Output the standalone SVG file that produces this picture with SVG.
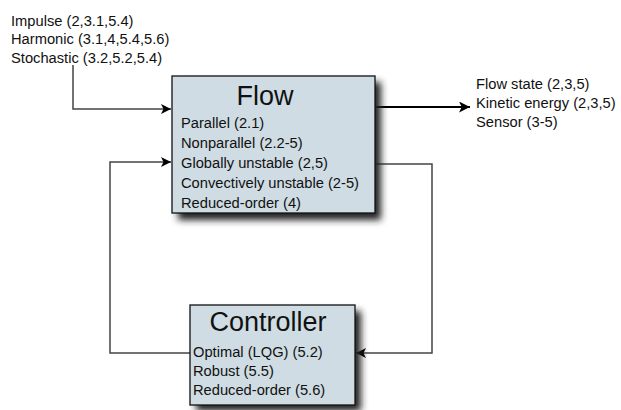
<svg xmlns="http://www.w3.org/2000/svg" width="621" height="410" viewBox="0 0 621 410">
<defs>
<filter id="sh" x="-20%" y="-20%" width="150%" height="160%">
<feGaussianBlur stdDeviation="3.5"/>
</filter>
<marker id="ah" viewBox="0 0 10 10" refX="10" refY="5" markerWidth="10" markerHeight="10" markerUnits="userSpaceOnUse" orient="auto">
<path d="M0,0 L10,5 L0,10 L2.5,5 Z" fill="#000"/>
</marker>
<marker id="ah2" viewBox="0 0 10 10" refX="10" refY="5" markerWidth="11" markerHeight="11" markerUnits="userSpaceOnUse" orient="auto">
<path d="M0,0 L10,5 L0,10 L2.5,5 Z" fill="#000"/>
</marker>
</defs>
<style>
text{font-family:"Liberation Sans","Open Sans",sans-serif;fill:#111}
.t{font-size:14.7px}
.h{font-size:27px}
.box{fill:#cfdce3;stroke:#111;stroke-width:1.3}
.shadow{fill:#222;filter:url(#sh)}
.c{fill:none;stroke:#444;stroke-width:1.5}
</style>
<rect width="621" height="410" fill="#fff"/>
<g id="inputs">
<text class="t" x="11" y="26">Impulse (2,3.1,5.4)</text>
<text class="t" x="11" y="44">Harmonic (3.1,4,5.4,5.6)</text>
<text class="t" x="11" y="63">Stochastic (3.2,5.2,5.4)</text>
</g>
<g id="outputs">
<text class="t" x="476" y="89">Flow state (2,3,5)</text>
<text class="t" x="476" y="108">Kinetic energy (2,3,5)</text>
<text class="t" x="476" y="127">Sensor (3-5)</text>
</g>
<g id="connectors">
<polyline class="c" points="73,65 73,109 171,109" marker-end="url(#ah)" stroke="#222"/>
<line x1="375" y1="107" x2="470" y2="107" stroke="#000" stroke-width="2.2" marker-end="url(#ah2)"/>
<polyline class="c" points="375,164 432,164 432,353 356,353" marker-end="url(#ah)"/>
<polyline class="c" points="190,353 110,353 110,162 171,162" marker-end="url(#ah)"/>
</g>
<g id="flow">
<rect class="shadow" x="178" y="82" width="203" height="138"/>
<rect class="box" x="172" y="76" width="203" height="137"/>
<text class="h" x="265" y="105" text-anchor="middle">Flow</text>
<text class="t" x="181" y="128">Parallel (2.1)</text>
<text class="t" x="181" y="148">Nonparallel (2.2-5)</text>
<text class="t" x="181" y="168">Globally unstable (2,5)</text>
<text class="t" x="181" y="188">Convectively unstable (2-5)</text>
<text class="t" x="181" y="208">Reduced-order (4)</text>
</g>
<g id="controller">
<rect class="shadow" x="196" y="311" width="165" height="100"/>
<rect class="box" x="190" y="305" width="165" height="100"/>
<text class="h" x="268" y="331" text-anchor="middle" font-size="25">Controller</text>
<text class="t" x="193" y="357">Optimal (LQG) (5.2)</text>
<text class="t" x="193" y="376">Robust (5.5)</text>
<text class="t" x="193" y="395">Reduced-order (5.6)</text>
</g>
</svg>
